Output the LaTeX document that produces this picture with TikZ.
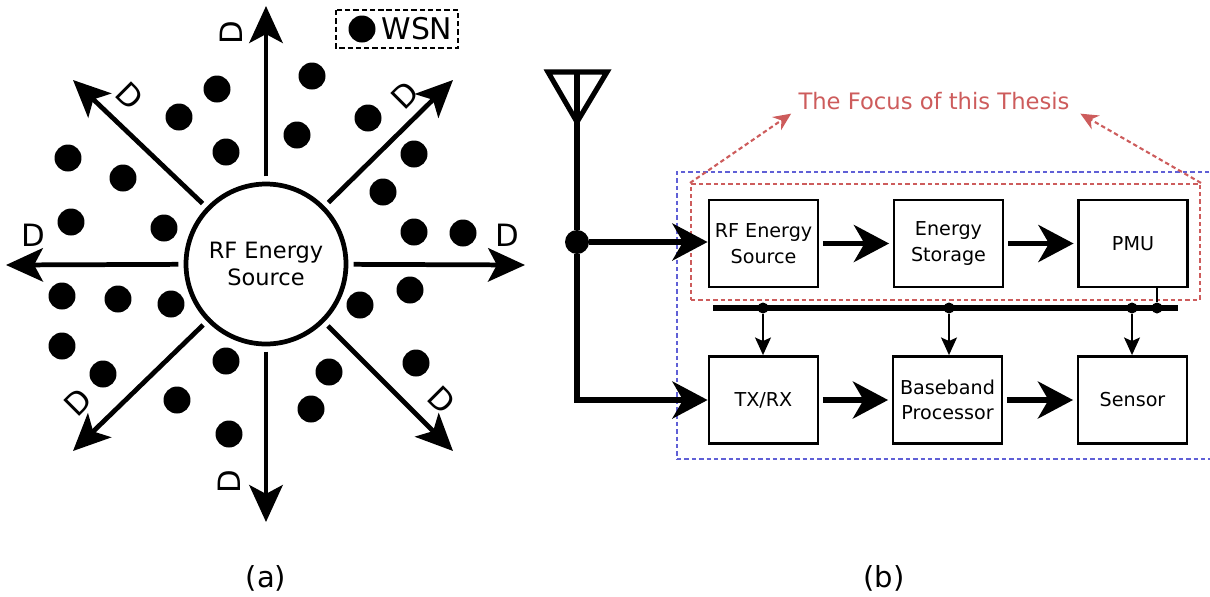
\documentclass[tikz,border=0pt]{standalone}
\usepackage{fontspec}
\setmainfont{DejaVu Sans}
\usetikzlibrary{arrows.meta,positioning}

\definecolor{focusred}{RGB}{205,92,92}
\definecolor{sysblue}{RGB}{96,96,214}

\begin{document}
\begin{tikzpicture}[
    x=0.02cm, y=-0.02cm,
    src/.style={draw, circle, line width=2.7pt, minimum size=3.2cm, inner sep=0pt, align=center, font=\fontsize{12.8}{15.3}\selectfont},
    wsn/.style={circle, fill, inner sep=0pt, minimum size=0.54cm},
    ray/.style={line width=2.7pt, shorten <=3pt, -{Stealth[length=21pt, width=19pt, inset=5pt]}},
    dlab/.style={font=\fontsize{17.5}{20}\selectfont, inner sep=0pt},
    subcap/.style={font=\fontsize{16.5}{19}\selectfont},
    blk/.style={draw, line width=1.6pt, minimum width=2.18cm, minimum height=1.74cm, align=center, font=\fontsize{10.9}{14.5}\selectfont, inner sep=1pt},
    bigarr/.style={line width=3.4pt, -{Stealth[length=20pt, width=21pt, inset=6pt]}},
    feed/.style={line width=2.9pt},
    tap/.style={line width=1.3pt, -{Stealth[length=10pt, width=9pt, inset=2pt]}},
    jdot/.style={circle, fill, inner sep=0pt, minimum size=0.22cm},
    focus/.style={draw=focusred, line width=1.2pt, dash pattern=on 2.5pt off 1.7pt},
    sysbox/.style={draw=sysblue, line width=1.2pt, dash pattern=on 2.5pt off 1.7pt},
    legbox/.style={draw, line width=1.2pt, dash pattern=on 3pt off 1.7pt}
]
\useasboundingbox (0,0) rectangle (1210,596);

% (a) energy source with sensor nodes
\node[src] (src) at (266,264) {RF Energy\\Source};
\coordinate (tipN) at (266,6);
\coordinate (tipS) at (266,522);
\coordinate (tipW) at (6,265);
\coordinate (tipE) at (525,265);
\coordinate (tipNW) at (73,80);
\coordinate (tipNE) at (453,80);
\coordinate (tipSW) at (73,451);
\coordinate (tipSE) at (453,451);
\draw[ray] (src) -- (tipN);
\draw[ray] (src) -- (tipS);
\draw[ray] (src) -- (tipW);
\draw[ray] (src) -- (tipE);
\draw[ray] (src) -- (tipNW);
\draw[ray] (src) -- (tipNE);
\draw[ray] (src) -- (tipSW);
\draw[ray] (src) -- (tipSE);

\node[dlab, rotate=90] (dN) at (231,33) {D};
\node[dlab, rotate=-45] (dNW) at (130,96) {D};
\node[dlab, rotate=45] (dNE) at (405,95) {D};
\node[dlab] (dE) at (507,235) {D};
\node[dlab] (dW) at (33,235) {D};
\node[dlab, rotate=45] (dSW) at (78,402) {D};
\node[dlab, rotate=-45] (dSE) at (442,400) {D};
\node[dlab, rotate=90] (dS) at (229,482) {D};

\foreach \px/\py [count=\i] in {312/76, 217/89, 179/117, 226/152, 297/135, 368/118,
    414/154, 383/192, 414/232, 463/233, 68/158, 123/178, 71/222, 164/228,
    62/296, 118/299, 171/304, 410/290, 360/305, 62/346, 103/374, 226/361,
    177/400, 229/434, 329/372, 311/409, 416/363}
  \node[wsn] (w\i) at (\px,\py) {};

% legend
\draw[legbox] (336,10) rectangle (458,48);
\node[wsn] (legdot) at (362,29) {};
\node[font=\fontsize{17}{20}\selectfont, inner sep=0pt, right=3pt of legdot] (legtxt) {WSN};

\node[subcap] (capa) at (266,578) {(a)};

% (b) node architecture
\node[sysbox, minimum width=10.72cm, minimum height=5.74cm] (sys) at (945,315.5) {};
\node[focus, minimum width=10.18cm, minimum height=2.32cm] (focusbox) at (945.5,242) {};

\node[blk] (rfs) at (763.5,243.5) {RF Energy\\Source};
\node[blk] (es) at (948.5,243.5) {Energy\\Storage};
\node[blk] (pmu) at (1133,243.5) {PMU};
\node[blk] (trx) at (763.5,400) {TX/RX};
\node[blk] (bbp) at (947.5,400) {Baseband\\Processor};
\node[blk] (sen) at (1132.5,400) {Sensor};

\draw[bigarr, shorten <=2pt, shorten >=2pt] (rfs) -- (es);
\draw[bigarr, shorten <=2pt, shorten >=2pt] (es) -- (pmu);
\draw[bigarr, shorten <=2pt, shorten >=2pt] (trx) -- (bbp);
\draw[bigarr, shorten <=2pt, shorten >=2pt] (bbp) -- (sen);

% antenna and feed
\coordinate (antL) at (548,72);
\coordinate (antR) at (607,72);
\coordinate (antT) at (577,72);
\coordinate (apex) at (577,122);
\node[jdot, minimum size=0.48cm] (jn) at (577,242) {};
\draw[feed, line join=miter] (antL) -- (antR) -- (apex) -- cycle;
\draw[feed] (antT) -- (apex) -- (jn);
\draw[bigarr] (jn) -- (jn -| rfs.west);
\draw[bigarr] (jn) |- (trx.west);

% power bus
\coordinate (busL) at (713,308);
\coordinate (busR) at (1178,308);
\draw[line width=3.4pt] (busL) -- (busR);
\node[jdot] (t1) at (763,308) {};
\node[jdot] (t2) at (949,308) {};
\node[jdot] (t3) at (1132,308) {};
\node[jdot] (t4) at (1157,308) {};
\draw[line width=1.3pt] (pmu.south -| t4) -- (t4);
\draw[tap] (t1) -- (t1 |- trx.north);
\draw[tap] (t2) -- (t2 |- bbp.north);
\draw[tap] (t3) -- (t3 |- sen.north);

\node[text=focusred, font=\fontsize{12.9}{15.5}\selectfont, inner sep=2pt] (thesis) at (934,101) {The Focus of this Thesis};
\draw[focus, -{Stealth[length=10pt, width=9pt]}] (focusbox.north west) -- ([xshift=-2pt]thesis.south west);
\draw[focus, -{Stealth[length=10pt, width=9pt]}] (focusbox.north east) -- ([xshift=4pt]thesis.south east);

\node[subcap] (capb) at (884,578) {(b)};
\end{tikzpicture}
\end{document}
